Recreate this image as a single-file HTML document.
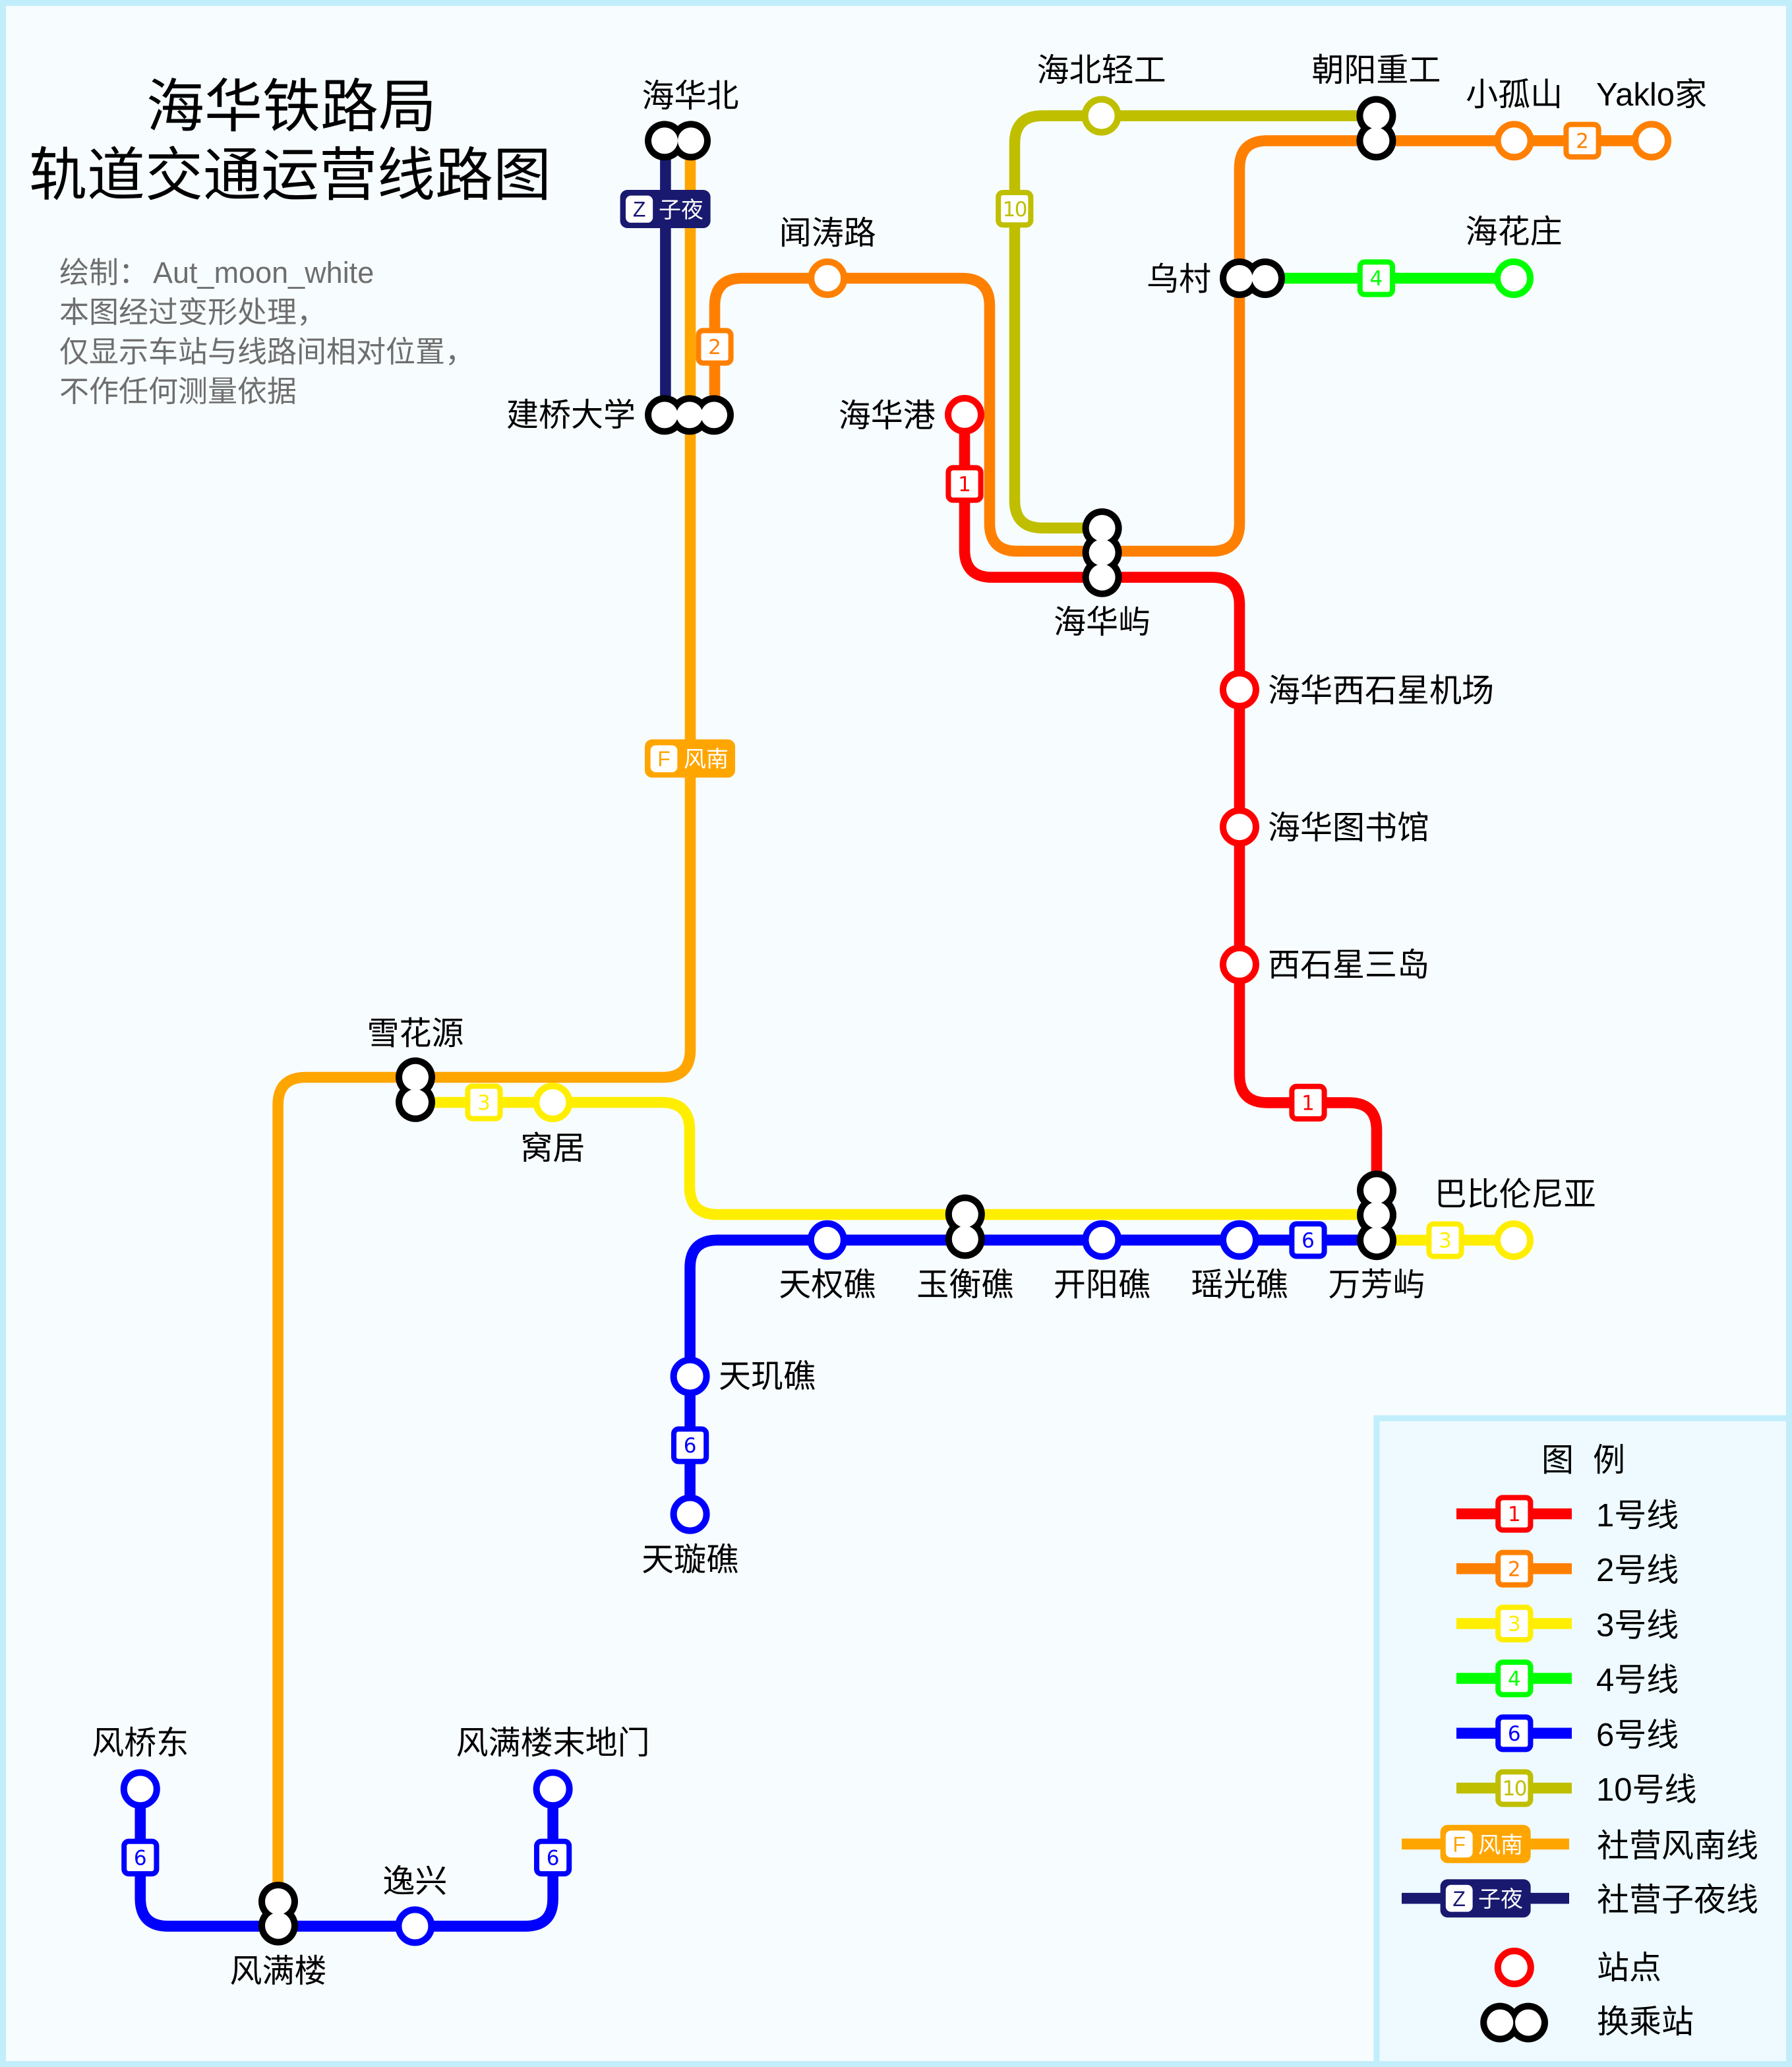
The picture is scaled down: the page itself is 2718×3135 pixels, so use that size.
<!DOCTYPE html>
<html><head><meta charset="utf-8">
<style>
html,body{margin:0;padding:0;background:#f7fcfe;}
svg{display:block;}
text{font-family:"Liberation Sans","Noto Sans CJK SC",sans-serif;}
.n{font-family:"DejaVu Sans","Liberation Sans",sans-serif;font-size:15.5px;text-anchor:middle;}
.l{font-size:24.5px;fill:#000;}
.m{text-anchor:middle;}
.e{text-anchor:end;}
.g{font-size:22.5px;fill:#6e6e6e;}
</style></head><body>
<svg xmlns="http://www.w3.org/2000/svg" width="2718" height="3135" viewBox="0 0 1359 1567.5">
<rect x="0" y="0" width="1359" height="1567.5" fill="#f7fcfe"/>
<rect x="1044" y="1075.5" width="330" height="510" fill="#eefaff" stroke="#c2eefb" stroke-width="4.5"/>
<rect x="2.25" y="2.25" width="1354.5" height="1563" fill="none" stroke="#c2eefb" stroke-width="4.5"/>

<!-- Title -->
<text x="221" y="96" font-size="44" text-anchor="middle" fill="#000">海华铁路局</text>
<text x="220" y="148" font-size="44" text-anchor="middle" fill="#000">轨道交通运营线路图</text>
<text class="g" x="45" y="214.5">绘制：</text>
<text class="g" x="116" y="214.5">Aut_moon_white</text>
<text class="g" x="45" y="244.5">本图经过变形处理，</text>
<text class="g" x="45" y="274.5">仅显示车站与线路间相对位置，</text>
<text class="g" x="45" y="304.5">不作任何测量依据</text>

<!-- Lines -->
<g fill="none" stroke-width="8.3" stroke-linecap="butt">
<path stroke="#ffa500" d="M523.5 106.7 V796 Q523.5 817 502.5 817 H231.8 Q210.8 817 210.8 838 V1442"/>
<path stroke="#191970" d="M504.7 106.7 V314.7"/>
<path stroke="#ff8000" d="M542 314.7 V232 Q542 211 563 211 H729.5 Q750.5 211 750.5 232 V397 Q750.5 418 771.5 418 H919 Q940 418 940 397 V127.7 Q940 106.7 961 106.7 H1252.5"/>
<path stroke="#bfbf00" d="M1043.7 87.8 H790.5 Q769.5 87.8 769.5 108.8 V379.4 Q769.5 400.4 790.5 400.4 H835.8"/>
<path stroke="#ff0000" d="M731.5 314.5 V416.8 Q731.5 437.8 752.5 437.8 H919 Q940 437.8 940 458.8 V815.2 Q940 836.2 961 836.2 H1023 Q1044 836.2 1044 857.2 V902.7"/>
<path stroke="#00ff00" d="M959.5 211 H1148"/>
<path stroke="#ffee00" d="M315 836 H502 Q523 836 523 857 V900 Q523 921 544 921 H1044"/>
<path stroke="#ffee00" d="M1044 940.5 H1148"/>
<path stroke="#0000ff" d="M1044 940.4 H544.3 Q523.3 940.4 523.3 961.4 V1148.3"/>
<path stroke="#0000ff" d="M106.4 1356.7 V1439.7 Q106.4 1460.7 127.4 1460.7 H398.3 Q419.3 1460.7 419.3 1439.7 V1356.7"/>
</g>

<!-- Badges -->
<g stroke-width="4" fill="#fff">
<rect x="719.2" y="354.7" width="24.6" height="24.6" rx="3.5" stroke="#ff0000"/>
<rect x="979.7" y="823.9" width="24.6" height="24.6" rx="3.5" stroke="#ff0000"/>
<rect x="529.7" y="250.7" width="24.6" height="24.6" rx="3.5" stroke="#ff8000"/>
<rect x="1187.7" y="94.4" width="24.6" height="24.6" rx="3.5" stroke="#ff8000"/>
<rect x="354.7" y="823.7" width="24.6" height="24.6" rx="3.5" stroke="#ffee00"/>
<rect x="1083.7" y="928.2" width="24.6" height="24.6" rx="3.5" stroke="#ffee00"/>
<rect x="1031.4" y="198.7" width="24.6" height="24.6" rx="3.5" stroke="#00ff00"/>
<rect x="979.7" y="928.1" width="24.6" height="24.6" rx="3.5" stroke="#0000ff"/>
<rect x="511" y="1083.7" width="24.6" height="24.6" rx="3.5" stroke="#0000ff"/>
<rect x="94.1" y="1396.4" width="24.6" height="24.6" rx="3.5" stroke="#0000ff"/>
<rect x="407" y="1396.4" width="24.6" height="24.6" rx="3.5" stroke="#0000ff"/>
<rect x="757.1" y="146" width="24.6" height="24.6" rx="3.5" stroke="#bfbf00"/>
</g>
<text class="n" x="731.5" y="372.6" fill="#ff0000">1</text>
<text class="n" x="992" y="841.8" fill="#ff0000">1</text>
<text class="n" x="542" y="268.6" fill="#ff8000">2</text>
<text class="n" x="1200" y="112.3" fill="#ff8000">2</text>
<text class="n" x="367" y="841.6" fill="#ffee00">3</text>
<text class="n" x="1096" y="946.1" fill="#ffee00">3</text>
<text class="n" x="1043.7" y="216.6" fill="#00ff00">4</text>
<text class="n" x="992" y="946" fill="#0000ff">6</text>
<text class="n" x="523.3" y="1101.6" fill="#0000ff">6</text>
<text class="n" x="106.4" y="1414.3" fill="#0000ff">6</text>
<text class="n" x="419.3" y="1414.3" fill="#0000ff">6</text>
<text class="n" x="769.4" y="163.9" fill="#bfbf00" letter-spacing="-0.8">10</text>

<!-- Wide badges -->
<rect x="489" y="560.7" width="68.5" height="29" rx="5.5" fill="#ffa500"/>
<rect x="493.3" y="565.2" width="20.4" height="20.4" rx="4" fill="#fff"/>
<text x="503.5" y="581" font-size="16" text-anchor="middle" fill="#ffa500">F</text>
<text x="518.5" y="581.5" font-size="17" fill="#fff">风南</text>

<rect x="470.3" y="144" width="68.5" height="29" rx="5.5" fill="#191970"/>
<rect x="474.5" y="148.3" width="20.6" height="20.6" rx="4" fill="#fff"/>
<text x="484.8" y="164.3" font-size="16" text-anchor="middle" fill="#191970">Z</text>
<text x="499.5" y="165" font-size="17" fill="#fff">子夜</text>

<!-- Stations -->
<g fill="#fff" stroke-width="5">
<circle cx="731.5" cy="314.5" r="12.5" stroke="#ff0000"/>
<circle cx="940" cy="523" r="12.5" stroke="#ff0000"/>
<circle cx="940" cy="627.1" r="12.5" stroke="#ff0000"/>
<circle cx="940" cy="731.4" r="12.5" stroke="#ff0000"/>
<circle cx="627.6" cy="211" r="12.5" stroke="#ff8000"/>
<circle cx="1148.3" cy="106.7" r="12.5" stroke="#ff8000"/>
<circle cx="1252.5" cy="106.7" r="12.5" stroke="#ff8000"/>
<circle cx="835.3" cy="87.8" r="12.5" stroke="#bfbf00"/>
<circle cx="1148" cy="211" r="12.5" stroke="#00ff00"/>
<circle cx="419.2" cy="836" r="12.5" stroke="#ffee00"/>
<circle cx="1148" cy="940.5" r="12.5" stroke="#ffee00"/>
<circle cx="627.4" cy="940.4" r="12.5" stroke="#0000ff"/>
<circle cx="835.7" cy="940.4" r="12.5" stroke="#0000ff"/>
<circle cx="940" cy="940.4" r="12.5" stroke="#0000ff"/>
<circle cx="523.3" cy="1043.8" r="12.5" stroke="#0000ff"/>
<circle cx="523.3" cy="1148.3" r="12.5" stroke="#0000ff"/>
<circle cx="106.4" cy="1356.7" r="12.5" stroke="#0000ff"/>
<circle cx="314.7" cy="1460.7" r="12.5" stroke="#0000ff"/>
<circle cx="419.3" cy="1356.7" r="12.5" stroke="#0000ff"/>
</g>

<!-- Interchanges -->
<g fill="#000">
<circle cx="504" cy="106.7" r="15"/><circle cx="524" cy="106.7" r="15"/>
<circle cx="504" cy="314.7" r="15"/><circle cx="523" cy="314.7" r="15"/><circle cx="541.5" cy="314.7" r="15"/>
<circle cx="1043.7" cy="87.8" r="15"/><circle cx="1043.7" cy="106.7" r="15"/>
<circle cx="940" cy="211" r="15"/><circle cx="959.5" cy="211" r="15"/>
<circle cx="835.8" cy="400.5" r="15"/><circle cx="835.8" cy="419" r="15"/><circle cx="835.8" cy="437.8" r="15"/>
<circle cx="315" cy="816.9" r="15"/><circle cx="315" cy="835.9" r="15"/>
<circle cx="731.9" cy="920.8" r="15"/><circle cx="731.9" cy="939.7" r="15"/>
<circle cx="1044" cy="902.7" r="15"/><circle cx="1044" cy="921.5" r="15"/><circle cx="1044" cy="940.6" r="15"/>
<circle cx="211" cy="1442" r="15"/><circle cx="211" cy="1460.3" r="15"/>
<circle cx="1137.6" cy="1533.8" r="15"/><circle cx="1159" cy="1533.8" r="15"/>
</g>
<g fill="#fff">
<circle cx="504" cy="106.7" r="10"/><circle cx="524" cy="106.7" r="10"/>
<circle cx="504" cy="314.7" r="10"/><circle cx="523" cy="314.7" r="10"/><circle cx="541.5" cy="314.7" r="10"/>
<circle cx="1043.7" cy="87.8" r="10"/><circle cx="1043.7" cy="106.7" r="10"/>
<circle cx="940" cy="211" r="10"/><circle cx="959.5" cy="211" r="10"/>
<circle cx="835.8" cy="400.5" r="10"/><circle cx="835.8" cy="419" r="10"/><circle cx="835.8" cy="437.8" r="10"/>
<circle cx="315" cy="816.9" r="10"/><circle cx="315" cy="835.9" r="10"/>
<circle cx="731.9" cy="920.8" r="10"/><circle cx="731.9" cy="939.7" r="10"/>
<circle cx="1044" cy="902.7" r="10"/><circle cx="1044" cy="921.5" r="10"/><circle cx="1044" cy="940.6" r="10"/>
<circle cx="211" cy="1442" r="10"/><circle cx="211" cy="1460.3" r="10"/>
<circle cx="1137.6" cy="1533.8" r="10"/><circle cx="1159" cy="1533.8" r="10"/>
</g>

<!-- Station labels -->
<text class="l m" x="523.5" y="81">海华北</text>
<text class="l e" x="482" y="323">建桥大学</text>
<text class="l m" x="627.6" y="185">闻涛路</text>
<text class="l e" x="709.4" y="323.5">海华港</text>
<text class="l m" x="835.3" y="61.5">海北轻工</text>
<text class="l m" x="1043.7" y="61.5">朝阳重工</text>
<text class="l m" x="1148.3" y="80">小孤山</text>
<text class="l m" x="1252.5" y="80">Yaklo家</text>
<text class="l m" x="1148" y="184">海花庄</text>
<text class="l e" x="918.5" y="220">乌村</text>
<text class="l m" x="835.8" y="480">海华屿</text>
<text class="l" x="961.5" y="532">海华西石星机场</text>
<text class="l" x="961.5" y="636">海华图书馆</text>
<text class="l" x="961.5" y="740">西石星三岛</text>
<text class="l m" x="315" y="792">雪花源</text>
<text class="l m" x="419.2" y="879">窝居</text>
<text class="l" x="1087.8" y="914">巴比伦尼亚</text>
<text class="l m" x="627.4" y="982.5">天权礁</text>
<text class="l m" x="731.9" y="982.5">玉衡礁</text>
<text class="l m" x="835.7" y="982.5">开阳礁</text>
<text class="l m" x="940" y="982.5">瑶光礁</text>
<text class="l m" x="1044" y="982.5">万芳屿</text>
<text class="l" x="545" y="1052">天玑礁</text>
<text class="l m" x="523.3" y="1191">天璇礁</text>
<text class="l m" x="106.4" y="1330">风桥东</text>
<text class="l m" x="419.3" y="1330">风满楼末地门</text>
<text class="l m" x="314.7" y="1435">逸兴</text>
<text class="l m" x="211" y="1503">风满楼</text>

<!-- Legend -->
<text class="l" x="1169" y="1115.5">图</text>
<text class="l" x="1208" y="1115.5">例</text>
<g fill="none" stroke-width="8.3">
<path stroke="#ff0000" d="M1104.5 1148 H1192"/>
<path stroke="#ff8000" d="M1104.5 1189.6 H1192"/>
<path stroke="#ffee00" d="M1104.5 1231.2 H1192"/>
<path stroke="#00ff00" d="M1104.5 1272.8 H1192"/>
<path stroke="#0000ff" d="M1104.5 1314.4 H1192"/>
<path stroke="#bfbf00" d="M1104.5 1356 H1192"/>
<path stroke="#ffa500" d="M1063 1398.4 H1190"/>
<path stroke="#191970" d="M1063 1439.6 H1190"/>
</g>
<g stroke-width="4" fill="#fff">
<rect x="1136.1" y="1135.7" width="24.6" height="24.6" rx="3.5" stroke="#ff0000"/>
<rect x="1136.1" y="1177.3" width="24.6" height="24.6" rx="3.5" stroke="#ff8000"/>
<rect x="1136.1" y="1218.9" width="24.6" height="24.6" rx="3.5" stroke="#ffee00"/>
<rect x="1136.1" y="1260.5" width="24.6" height="24.6" rx="3.5" stroke="#00ff00"/>
<rect x="1136.1" y="1302.1" width="24.6" height="24.6" rx="3.5" stroke="#0000ff"/>
<rect x="1136.1" y="1343.7" width="24.6" height="24.6" rx="3.5" stroke="#bfbf00"/>
</g>
<text class="n" x="1148.4" y="1153.6" fill="#ff0000">1</text>
<text class="n" x="1148.4" y="1195.2" fill="#ff8000">2</text>
<text class="n" x="1148.4" y="1236.8" fill="#ffee00">3</text>
<text class="n" x="1148.4" y="1278.4" fill="#00ff00">4</text>
<text class="n" x="1148.4" y="1320" fill="#0000ff">6</text>
<text class="n" x="1148.4" y="1361.6" fill="#bfbf00" letter-spacing="-0.8">10</text>

<rect x="1092.3" y="1383.9" width="68.5" height="29" rx="5.5" fill="#ffa500"/>
<rect x="1096.4" y="1388.2" width="20.4" height="20.4" rx="4" fill="#fff"/>
<text x="1106.6" y="1404.2" font-size="16" text-anchor="middle" fill="#ffa500">F</text>
<text x="1121" y="1404.9" font-size="17" fill="#fff">风南</text>

<rect x="1092.3" y="1425.1" width="68.5" height="29" rx="5.5" fill="#191970"/>
<rect x="1096.4" y="1429.4" width="20.4" height="20.4" rx="4" fill="#fff"/>
<text x="1106.6" y="1445.4" font-size="16" text-anchor="middle" fill="#191970">Z</text>
<text x="1121" y="1446.1" font-size="17" fill="#fff">子夜</text>

<circle cx="1148.4" cy="1492" r="12.5" fill="#fff" stroke="#ff0000" stroke-width="5"/>

<text class="l" x="1210.5" y="1157.5">1号线</text>
<text class="l" x="1210.5" y="1199">2号线</text>
<text class="l" x="1210.5" y="1240.7">3号线</text>
<text class="l" x="1210.5" y="1282.3">4号线</text>
<text class="l" x="1210.5" y="1323.9">6号线</text>
<text class="l" x="1210.5" y="1365.5">10号线</text>
<text class="l" x="1211" y="1407.9">社营风南线</text>
<text class="l" x="1211" y="1449.1">社营子夜线</text>
<text class="l" x="1211" y="1500.5">站点</text>
<text class="l" x="1211" y="1541.5">换乘站</text>
</svg>
</body></html>
